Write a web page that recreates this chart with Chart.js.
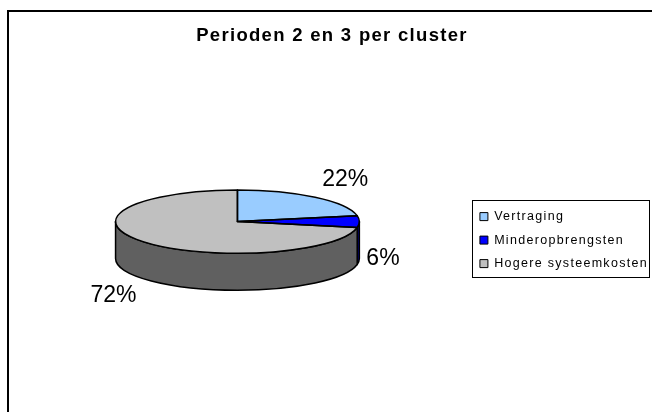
<!DOCTYPE html>
<html>
<head>
<meta charset="utf-8">
<script src="https://cdn.jsdelivr.net/npm/chart.js@4.4.1/dist/chart.umd.min.js"></script>
<style>
  html, body { margin: 0; padding: 0; background: #fff; overflow: hidden; }
  #wrap { position: relative; width: 652px; height: 412px; }
</style>
</head>
<body>
<div id="wrap"><canvas id="pieChart"></canvas></div>
<script>
// --- data ---
const categories = ['Vertraging', 'Minderopbrengsten', 'Hogere systeemkosten'];
const shares = [22, 6, 72];

// --- looks ---
const FONT = "'Liberation Sans', Arial, sans-serif";
const topColors = ['#99CCFF', '#0000FF', '#C0C0C0'];
const sideColors = ['#4D6680', '#000080', '#606060'];
const TILT = 0.26;    // vertical squash of the pie (3D view)
const DEPTH = 37;     // height of the side wall in px
const SPACING = '1.3px';

// 3D look: draw the side walls, then squash the arcs Chart.js draws
const pie3d = {
    id: 'pie3d',
    beforeLayout(chart) {
        chart.ctx.letterSpacing = SPACING;
    },
    beforeDraw(chart) {
        const ctx = chart.ctx;
        ctx.letterSpacing = SPACING;
        // outer frame (only left and top edges are in view)
        ctx.save();
        ctx.fillStyle = '#000';
        ctx.fillRect(7, 10, 2, chart.height);
        ctx.fillRect(7, 10, chart.width, 2);
        ctx.restore();
    },
    beforeDatasetsDraw(chart) {
        const ctx = chart.ctx;
        const arcs = chart.getDatasetMeta(0).data;
        const cx = arcs[0].x, cy = arcs[0].y, r = arcs[0].outerRadius;
        const topY = cy - DEPTH / 2, ry = r * TILT;

        // side walls, only the front half shows
        ctx.save();
        ctx.strokeStyle = '#000';
        ctx.lineWidth = 1.5;
        ctx.lineJoin = 'round';
        arcs.forEach((arc, i) => {
            [0, 2 * Math.PI].forEach(off => {
                const a = Math.max(arc.startAngle, off);
                const b = Math.min(arc.endAngle, off + Math.PI);
                if (b <= a) return;
                ctx.beginPath();
                ctx.ellipse(cx, topY, r, ry, 0, a, b);
                ctx.ellipse(cx, topY + DEPTH, r, ry, 0, b, a, true);
                ctx.closePath();
                ctx.fillStyle = sideColors[i];
                ctx.fill();
                ctx.stroke();
            });
        });
        ctx.restore();

        ctx.save();
        ctx.translate(0, topY - cy * TILT);
        ctx.scale(1, TILT);
    },
    afterDatasetsDraw(chart) {
        const ctx = chart.ctx;
        ctx.restore();

        const arcs = chart.getDatasetMeta(0).data;
        const cx = arcs[0].x, cy = arcs[0].y, r = arcs[0].outerRadius;
        const topY = cy - DEPTH / 2, ry = r * TILT;

        // slice outlines on the top face
        ctx.save();
        ctx.strokeStyle = '#000';
        ctx.lineWidth = 1.5;
        ctx.lineJoin = 'round';
        arcs.forEach(arc => {
            ctx.beginPath();
            ctx.moveTo(cx, topY);
            ctx.ellipse(cx, topY, r, ry, 0, arc.startAngle, arc.endAngle);
            ctx.closePath();
            ctx.stroke();
        });

        // percentage labels
        const total = shares.reduce((s, v) => s + v, 0);
        ctx.letterSpacing = '0px';
        ctx.font = '23px ' + FONT;
        ctx.fillStyle = '#000';
        ctx.textAlign = 'center';
        ctx.textBaseline = 'middle';
        arcs.forEach((arc, i) => {
            const mid = (arc.startAngle + arc.endAngle) / 2;
            const c = Math.cos(mid), s = Math.sin(mid);
            const txt = Math.round(shares[i] / total * 100) + '%';
            const w = ctx.measureText(txt).width, h = 16.5;
            const px = cx + r * c;
            const py = topY + ry * s + (s > -0.05 ? DEPTH : 0);
            const sx = Math.abs(c) > 0.1 ? Math.sign(c) : 0;
            const sy = Math.abs(s) > 0.1 ? Math.sign(s) : 0;
            ctx.fillText(txt, px + sx * (7 + w / 2), py + sy * (9 + h / 2));
        });
        ctx.restore();
    },
    afterDraw(chart) {
        // box around the legend
        const boxes = chart.legend.legendHitBoxes;
        if (!boxes || !boxes.length) return;
        const ctx = chart.ctx;
        const first = boxes[0], last = boxes[boxes.length - 1];
        const right = Math.max(...boxes.map(b => b.left + b.width));
        ctx.save();
        ctx.strokeStyle = '#000';
        ctx.lineWidth = 1;
        ctx.strokeRect(Math.round(first.left - 8) + 0.5, Math.round(first.top - 10) + 0.5,
            Math.round(right - first.left + 9), Math.round(last.top + last.height - first.top + 17));
        ctx.restore();
    }
};

const ctxPie = document.getElementById('pieChart').getContext('2d');
new Chart(ctxPie, {
    type: 'pie',
    data: {
        labels: categories,
        datasets: [{
            data: shares,
            backgroundColor: topColors,
            borderWidth: 0,
            clip: false
        }]
    },
    options: {
        responsive: true,
        maintainAspectRatio: false,
        animation: false,
        layout: {
            padding: { left: 6, right: -6, top: 0, bottom: 50 }
        },
        plugins: {
            title: {
                display: true,
                text: 'Perioden 2 en 3 per cluster',
                color: '#000',
                font: { family: FONT, size: 18.5, weight: 'bold' },
                padding: { top: 25, bottom: 71 }
            },
            legend: {
                position: 'right',
                fullSize: false,
                align: 'center',
                labels: {
                    boxWidth: 8,
                    boxHeight: 8,
                    padding: 11,
                    color: '#000',
                    font: { family: FONT, size: 12.5 },
                    generateLabels: chart => chart.data.labels.map((text, i) => ({
                        text: text,
                        fillStyle: topColors[i],
                        strokeStyle: '#000',
                        lineWidth: 1,
                        hidden: false,
                        index: i
                    }))
                }
            },
            tooltip: { enabled: false }
        }
    },
    plugins: [pie3d]
});
</script>
</body>
</html>
